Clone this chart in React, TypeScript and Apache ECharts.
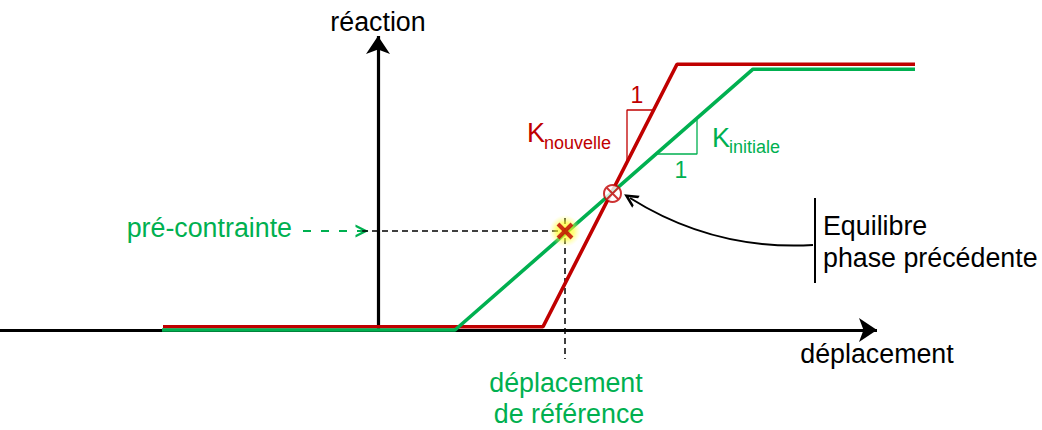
import React, { useEffect, useRef } from "react";
import * as echarts from "echarts";

// Data-space (arbitrary units: displacement / reaction)
const X_RANGE = [-3.78, 6.64];
const Y_RANGE = [-1.0, 3.3];

// Constitutive laws
const RED_LAW = [[-2.15, 0.033], [1.65, 0.033], [2.99, 2.657], [5.37, 2.657]];
const GREEN_LAW = [[-2.16, 0.0], [0.77, 0.0], [3.75, 2.608], [5.37, 2.608]];

// Axes (with arrows)
const X_AXIS_LINE = [[-3.78, 0], [4.99, 0]];
const Y_AXIS_LINE = [[0, 0], [0, 2.94]];

// Slope triangles
const RED_TRIANGLE = [[2.49, 1.678], [2.49, 2.2], [2.757, 2.2]];
const GREEN_TRIANGLE = [[2.78, 1.76], [3.19, 1.76], [3.19, 2.1]];

// Reference point and helper lines
const REF_POINT = [1.87, 0.99];
const REF_H_DASH = [[-0.16, 0.99], [1.87, 0.99]];
const REF_V_DASH = [[1.87, 1.12], [1.87, -0.29]];
const PRESTRESS_ARROW = [[-0.75, 0.99], [-0.16, 0.99]];

// Previous equilibrium
const EQ_POINT = [2.345, 1.365];
const EQ_BAR = [[4.37, 1.32], [4.37, 0.47]];
const EQ_ARROW = [[4.35, 0.85], [2.52, 1.32]];

const RED = "#C00000";
const GREEN = "#00B050";
const FONT = "'Liberation Sans', Arial, Helvetica, sans-serif";

const CHEVRON = "path://M5,0 L10,10 L8,10 L5,4 L2,10 L0,10 Z";

export default function App() {
  const ref = useRef<HTMLDivElement>(null);
  useEffect(() => {
    document.body.style.margin = "0";
    const chart = echarts.init(ref.current!, null, { renderer: "svg" });
    const txt = (text: string, x: number, y: number, opts: any = {}) => ({
      type: "text",
      x,
      y,
      z: 100,
      style: {
        text,
        fontFamily: FONT,
        fontSize: 26.8,
        fill: "#000",
        align: "center",
        verticalAlign: "middle",
        ...opts,
      },
    });
    chart.setOption({
      animation: false,
      grid: { left: 0, right: 0, top: 0, bottom: 0 },
      xAxis: { type: "value", min: X_RANGE[0], max: X_RANGE[1], show: false },
      yAxis: { type: "value", min: Y_RANGE[0], max: Y_RANGE[1], show: false },
      series: [
        {
          type: "lines",
          coordinateSystem: "cartesian2d",
          z: 1,
          symbol: ["none", "arrow"],
          symbolSize: [11, 18],
          lineStyle: { color: "#000", width: 3.2, opacity: 1 },
          data: [{ coords: X_AXIS_LINE }, { coords: Y_AXIS_LINE }],
        },
        {
          type: "line",
          z: 3,
          data: RED_LAW,
          showSymbol: false,
          lineStyle: { color: RED, width: 3.6 },
        },
        {
          type: "line",
          z: 4,
          data: GREEN_LAW,
          showSymbol: false,
          lineStyle: { color: GREEN, width: 3.6 },
        },
        {
          type: "line",
          z: 2,
          data: RED_TRIANGLE,
          showSymbol: false,
          lineStyle: { color: RED, width: 1.3 },
        },
        {
          type: "line",
          z: 2,
          data: GREEN_TRIANGLE,
          showSymbol: false,
          lineStyle: { color: GREEN, width: 1.3 },
        },
        {
          type: "line",
          z: 2,
          data: REF_H_DASH,
          showSymbol: false,
          lineStyle: { color: "#000", width: 1.5, type: [6, 4] },
        },
        {
          type: "line",
          z: 2,
          data: REF_V_DASH,
          showSymbol: false,
          lineStyle: { color: "#000", width: 1.5, type: [6, 4] },
        },
        {
          type: "lines",
          coordinateSystem: "cartesian2d",
          z: 2,
          symbol: ["none", CHEVRON],
          symbolSize: [10, 13],
          lineStyle: { color: GREEN, width: 2, type: [8, 10], opacity: 1 },
          data: [{ coords: PRESTRESS_ARROW }],
        },
        {
          type: "line",
          z: 2,
          data: EQ_BAR,
          showSymbol: false,
          lineStyle: { color: "#000", width: 2 },
        },
        {
          type: "lines",
          coordinateSystem: "cartesian2d",
          z: 2,
          symbol: ["none", CHEVRON],
          symbolSize: [12, 14],
          lineStyle: { color: "#000", width: 2, curveness: 0.16, opacity: 1 },
          data: [{ coords: EQ_ARROW }],
        },
        {
          type: "scatter",
          z: 5,
          data: [REF_POINT],
          symbol: "circle",
          symbolSize: 32,
          itemStyle: {
            color: {
              type: "radial",
              x: 0.5,
              y: 0.5,
              r: 0.5,
              colorStops: [
                { offset: 0, color: "rgba(255,255,0,1)" },
                { offset: 0.55, color: "rgba(255,255,40,0.75)" },
                { offset: 1, color: "rgba(255,255,120,0)" },
              ],
            },
          },
        },
        {
          type: "scatter",
          z: 6,
          data: [REF_POINT],
          symbol: "path://M0,0L10,10M10,0L0,10",
          symbolSize: 14,
          itemStyle: { color: "rgba(0,0,0,0)", borderColor: RED, borderWidth: 4 },
        },
        {
          type: "scatter",
          z: 6,
          data: [EQ_POINT],
          symbol: "circle",
          symbolSize: 17,
          itemStyle: { color: "#fff", borderColor: RED, borderWidth: 2 },
        },
        {
          type: "scatter",
          z: 7,
          data: [EQ_POINT],
          symbol: "path://M0,0L10,10M10,0L0,10",
          symbolSize: 11,
          itemStyle: { color: "rgba(0,0,0,0)", borderColor: RED, borderWidth: 2 },
        },
      ],
      graphic: [
        txt("réaction", 378, 22),
        txt("déplacement", 877, 354),
        txt("pré-contrainte", 292, 228, { align: "right", fill: GREEN }),
        txt("Equilibre", 823, 226, { align: "left" }),
        txt("phase précédente", 823, 258, { align: "left" }),
        txt("déplacement", 566, 383, { fill: GREEN }),
        txt("de référence", 569, 414, { fill: GREEN }),
        txt("1", 637, 95, { fill: RED, fontSize: 23 }),
        txt("1", 681, 170, { fill: GREEN, fontSize: 23 }),
        txt("K", 527, 133, { fill: RED, fontSize: 27, align: "left" }),
        txt("nouvelle", 544, 143, { fill: RED, fontSize: 18, align: "left" }),
        txt("K", 712, 138, { fill: GREEN, fontSize: 27, align: "left" }),
        txt("initiale", 729, 147, { fill: GREEN, fontSize: 18, align: "left" }),
      ],
    });
    return () => chart.dispose();
  }, []);
  return <div ref={ref} style={{ width: 1042, height: 430 }} />;
}
